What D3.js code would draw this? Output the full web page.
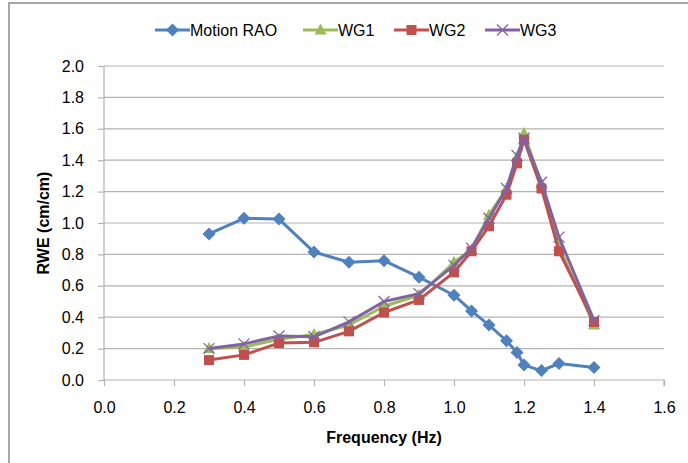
<!DOCTYPE html>
<html>
<head>
<meta charset="utf-8">
<script src="https://cdn.jsdelivr.net/npm/d3@7"></script>
<style>
  body { margin: 0; background: #fff; }
  text { font-family: "Liberation Sans", Arial, sans-serif; fill: #000; }
</style>
</head>
<body>
<div id="chart"></div>
<script>
// frequencies (Hz)
const freqRAO = [0.3, 0.4, 0.5, 0.6, 0.7, 0.8, 0.9, 1.0, 1.05, 1.1, 1.15, 1.18, 1.2, 1.25, 1.3, 1.4];
const freqWG  = [0.3, 0.4, 0.5, 0.6, 0.7, 0.8, 0.9, 1.0, 1.05, 1.1, 1.15, 1.18, 1.2, 1.25, 1.3, 1.4];

// series values
const motionRAO = [0.93, 1.03, 1.025, 0.815, 0.75, 0.76, 0.655, 0.54, 0.44, 0.35, 0.25, 0.175, 0.095, 0.06, 0.105, 0.08];
const wg1 = [0.20, 0.21, 0.26, 0.29, 0.35, 0.47, 0.54, 0.75, 0.83, 1.05, 1.22, 1.42, 1.57, 1.25, 0.85, 0.35];
const wg2 = [0.127, 0.16, 0.235, 0.24, 0.31, 0.43, 0.51, 0.686, 0.82, 0.98, 1.18, 1.38, 1.53, 1.22, 0.82, 0.37];
const wg3 = [0.20, 0.23, 0.28, 0.275, 0.37, 0.50, 0.55, 0.73, 0.84, 1.03, 1.22, 1.43, 1.54, 1.26, 0.91, 0.38];

const xTicks = [0.0, 0.2, 0.4, 0.6, 0.8, 1.0, 1.2, 1.4, 1.6];
const yTicks = [0.0, 0.2, 0.4, 0.6, 0.8, 1.0, 1.2, 1.4, 1.6, 1.8, 2.0];

const series = [
  {name: "Motion RAO", x: freqRAO, y: motionRAO, color: "#4F81BD", marker: "diamond"},
  {name: "WG1", x: freqWG, y: wg1, color: "#9BBB59", marker: "triangle"},
  {name: "WG2", x: freqWG, y: wg2, color: "#C0504D", marker: "square"},
  {name: "WG3", x: freqWG, y: wg3, color: "#8064A2", marker: "cross"}
];

const width = 688, height = 463;
const margin = {top: 66, right: 24, bottom: 83, left: 104};

const svg = d3.select("#chart").append("svg")
  .attr("width", width)
  .attr("height", height);

// outer chart border
svg.append("rect")
  .attr("x", 9).attr("y", 3)
  .attr("width", 700).attr("height", 500)
  .attr("fill", "none")
  .attr("stroke", "#a6a6a6")
  .attr("stroke-width", 2);

const xScale = d3.scaleLinear().domain([0, 1.6]).range([margin.left, width - margin.right]);
const yScale = d3.scaleLinear().domain([0, 2.0]).range([height - margin.bottom, margin.top]);

// gridlines
svg.append("g")
  .selectAll("line")
  .data(yTicks.filter(d => d > 0))
  .join("line")
    .attr("x1", xScale(0)).attr("x2", xScale(1.6))
    .attr("y1", d => yScale(d)).attr("y2", d => yScale(d))
    .attr("stroke", "#b3b3b3")
    .attr("stroke-width", 1.2);

// x axis
const xAxis = d3.axisBottom(xScale)
  .tickValues(xTicks)
  .tickFormat(d3.format(".1f"))
  .tickSize(6)
  .tickPadding(16);

svg.append("g")
  .attr("transform", `translate(0,${yScale(0)})`)
  .call(xAxis)
  .call(g => g.selectAll("line, path").attr("stroke", "#b3b3b3").attr("stroke-width", 1.2))
  .call(g => g.select(".domain").attr("d", `M${xScale(0)},0H${xScale(1.6)}V6`))
  .call(g => g.selectAll("text").style("font-size", "16px").attr("fill", "#000"));

// y axis
const yAxis = d3.axisLeft(yScale)
  .tickValues(yTicks)
  .tickFormat(d3.format(".1f"))
  .tickSize(6)
  .tickPadding(14);

svg.append("g")
  .attr("transform", `translate(${xScale(0)},0)`)
  .call(yAxis)
  .call(g => g.selectAll("line, path").attr("stroke", "#b3b3b3").attr("stroke-width", 1.2))
  .call(g => g.select(".domain").attr("d", `M0,${yScale(0)}V${yScale(2)}`))
  .call(g => g.selectAll("text").style("font-size", "16px").attr("fill", "#000"));

// axis titles
svg.append("text")
  .attr("x", (xScale(0) + xScale(1.6)) / 2)
  .attr("y", 443)
  .attr("text-anchor", "middle")
  .style("font-size", "16px")
  .style("font-weight", "bold")
  .text("Frequency (Hz)");

svg.append("text")
  .attr("transform", `translate(49,${(yScale(0) + yScale(2)) / 2}) rotate(-90)`)
  .attr("text-anchor", "middle")
  .style("font-size", "16px")
  .style("font-weight", "bold")
  .text("RWE (cm/cm)");

// marker drawing
function drawMarker(g, type, color) {
  if (type === "diamond") {
    g.append("path").attr("d", "M0,-6.5L6.5,0L0,6.5L-6.5,0Z").attr("fill", color);
  } else if (type === "triangle") {
    g.append("path").attr("d", "M0,-6.5L6,4.5L-6,4.5Z").attr("fill", color);
  } else if (type === "square") {
    g.append("rect").attr("x", -5).attr("y", -5).attr("width", 10).attr("height", 10).attr("fill", color);
  } else if (type === "cross") {
    g.append("path").attr("d", "M-5.5,-5.5L5.5,5.5M-5.5,5.5L5.5,-5.5")
      .attr("stroke", color).attr("stroke-width", 1.3).attr("fill", "none");
  }
}

const line = d3.line()
  .x(d => xScale(d[0]))
  .y(d => yScale(d[1]));

series.forEach(s => {
  const pts = s.x.map((x, i) => [x, s.y[i]]);
  svg.append("path")
    .datum(pts)
    .attr("d", line)
    .attr("fill", "none")
    .attr("stroke", s.color)
    .attr("stroke-width", 3)
    .attr("stroke-linejoin", "round");
  svg.append("g")
    .selectAll("g")
    .data(pts)
    .join("g")
      .attr("transform", d => `translate(${xScale(d[0])},${yScale(d[1])})`)
      .each(function() { drawMarker(d3.select(this), s.marker, s.color); });
});

// legend
const legendX = [155, 303, 394, 485];
const legend = svg.append("g");
series.forEach((s, i) => {
  const g = legend.append("g").attr("transform", `translate(${legendX[i]},30)`);
  g.append("line")
    .attr("x1", 0).attr("x2", 35)
    .attr("stroke", s.color).attr("stroke-width", 3);
  drawMarker(g.append("g").attr("transform", "translate(17.5,0)"), s.marker, s.color);
  g.append("text")
    .attr("x", 35).attr("y", 6)
    .style("font-size", "16px")
    .text(s.name);
});
</script>
</body>
</html>
